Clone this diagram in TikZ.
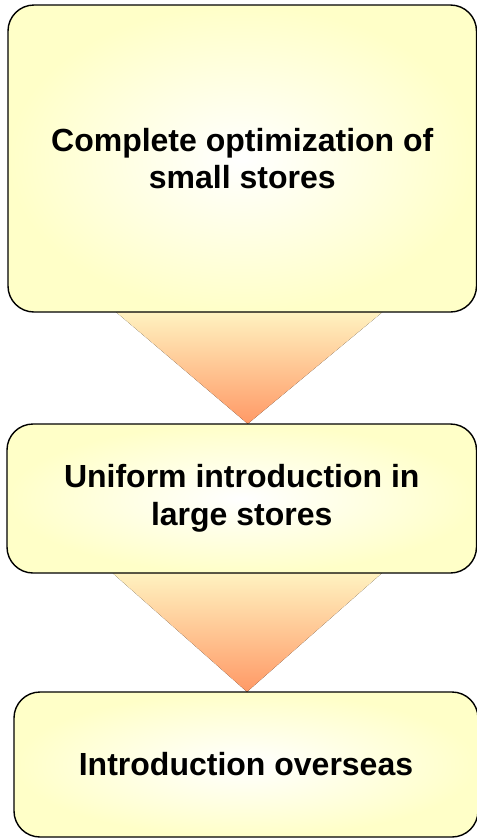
\documentclass[tikz,border=0pt]{standalone}
\usepackage{fontspec}
\setmainfont{Liberation Sans}
\definecolor{boxedge}{HTML}{FFFFC8}
\definecolor{tritop}{HTML}{FFF2C0}
\definecolor{tribot}{HTML}{FF9966}
\tikzset{
  stepbox/.style={draw=black, line width=1.4pt, rounded corners=26pt,
    rectangle, inner color=white, outer color=boxedge, align=center,
    font=\fontsize{32}{37.5}\selectfont\bfseries, inner sep=0pt},
  funnel/.style={top color=tritop, bottom color=tribot, draw=none}
}
\begin{document}
\begin{tikzpicture}[x=1pt,y=1pt]
\useasboundingbox (0,0) rectangle (477,-839);
% boxes (positions only; drawn later on top of the funnels)
\path (242.25,-158.5) node[minimum width=468.5pt, minimum height=307pt, inner sep=0pt] (b1) {};
\path (241.75,-498.5) node[minimum width=469.5pt, minimum height=149pt, inner sep=0pt] (b2) {};
\path (246,-764.5) node[minimum width=464pt, minimum height=145pt, inner sep=0pt] (b3) {};
% funnels between boxes
\fill[funnel] ([xshift=-126pt]b1.south) -- ([xshift=140pt]b1.south) -- ([xshift=6pt]b2.north) -- cycle;
\fill[funnel] ([xshift=-129pt]b2.south) -- ([xshift=140pt]b2.south) -- ([xshift=1pt]b3.north) -- cycle;
% boxes with text
\node[stepbox, minimum width=468.5pt, minimum height=307pt] (s1) at (b1) {Complete optimization of\\small stores};
\node[stepbox, minimum width=469.5pt, minimum height=149pt] (s2) at (b2) {Uniform introduction in\\large stores};
\node[stepbox, minimum width=464pt, minimum height=145pt] (s3) at (b3) {Introduction overseas};
\end{tikzpicture}
\end{document}
